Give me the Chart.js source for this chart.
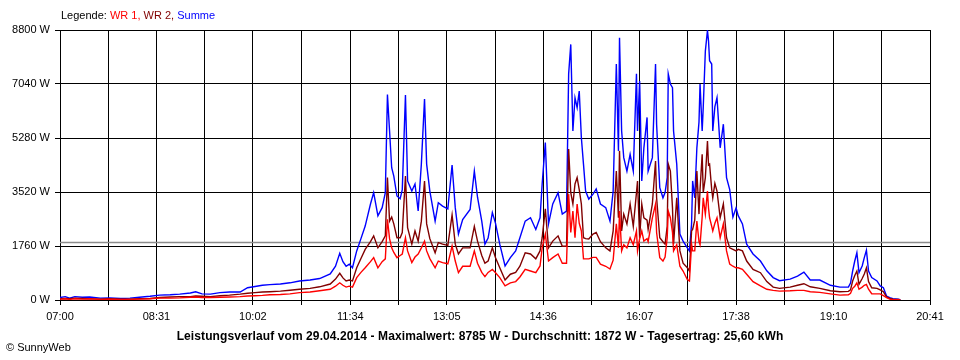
<!DOCTYPE html>
<html>
<head>
<meta charset="utf-8">
<script src="https://cdn.jsdelivr.net/npm/chart.js@4.4.1/dist/chart.umd.min.js"></script>
<style>
  body { margin: 0; background: #fff; }
  #wrap { position: relative; width: 960px; height: 360px; background: #fff; font-family: 'Liberation Sans', Arial, sans-serif; font-size: 11px; }
  #legend { position: absolute; left: 61px; top: 9px; line-height: 13px; color: #000; }
  #title { position: absolute; left: 0; width: 960px; top: 329px; text-align: center; font-weight: bold; font-size: 12px; line-height: 15px; letter-spacing: 0.1px; color: #000; }
  #copy { position: absolute; left: 6px; top: 341px; line-height: 13px; color: #000; }
</style>
</head>
<body>
<div id="wrap">
  <canvas id="chart" width="960" height="360"></canvas>
  <div id="legend">Legende: <span style="color:#ff0000">WR 1,</span> <span style="color:#800000">WR 2,</span> <span style="color:#0000ff">Summe</span></div>
  <div id="title"></div>
  <div id="copy">© SunnyWeb</div>
</div>
<script>
const times = [
  '07:00','07:05','07:09','07:14','07:21','07:28','07:38','07:47','07:57','08:06',
  '08:15','08:25','08:34','08:44','08:53','09:03','09:08','09:14','09:22','09:31',
  '09:40','09:50','09:57','10:04','10:11','10:18','10:28','10:37','10:46','10:56',
  '11:05','11:15','11:20','11:24','11:27','11:30','11:33','11:36','11:40','11:44',
  '11:48','11:53','11:56','12:00','12:04','12:07','12:09','12:11','12:13','12:15',
  '12:18','12:21','12:23','12:26','12:28','12:32','12:35','12:38','12:41','12:44',
  '12:46','12:49','12:54','12:57','13:01','13:06','13:10','13:13','13:16','13:20',
  '13:27','13:31','13:34','13:38','13:41','13:44','13:48','13:51','13:55','14:00',
  '14:05','14:10','14:14','14:19','14:24','14:29','14:33','14:35','14:38','14:41',
  '14:45','14:50','14:54','14:58','15:00','15:02','15:04','15:06','15:08','15:10',
  '15:12','15:14','15:16','15:19','15:23','15:26','15:30','15:35','15:39','15:42',
  '15:45','15:47','15:48','15:50','15:52','15:55','15:58','16:01','16:04','16:05',
  '16:07','16:09','16:11','16:14','16:15','16:19','16:22','16:23','16:26','16:29',
  '16:31','16:33','16:34','16:36','16:38','16:39','16:42','16:45','16:48','16:52',
  '16:54','16:56','16:57','16:59','17:01','17:03','17:04','17:06','17:07','17:09',
  '17:11','17:12','17:13','17:15','17:16','17:18','17:20','17:23','17:26','17:29',
  '17:32','17:35','17:38','17:40','17:44','17:48','17:54','18:01','18:07','18:13',
  '18:19','18:29','18:36','18:42','18:48','18:57','19:07','19:16','19:24','19:26',
  '19:28','19:30','19:32','19:34','19:37','19:39','19:41','19:43','19:46','19:51',
  '19:54','19:57','20:00','20:03','20:06','20:11','20:13'
];

const summe = [
  80,110,60,110,90,100,60,70,50,60,
  90,120,160,170,190,230,270,200,190,240,
  260,260,400,440,480,500,520,560,620,650,
  700,850,1100,1520,1250,1100,1170,1050,1600,2000,
  2410,3130,3500,2740,3010,3500,6700,5510,4310,4040,
  3390,3300,3600,6680,3880,3550,3780,2900,4430,6550,
  4430,3550,2570,3170,3060,2970,4400,3010,2150,2620,
  2950,4200,3350,2570,1820,2020,2850,2500,1820,1110,
  1380,1600,2030,2570,2680,2300,2680,3780,5130,2480,
  3130,3500,2800,2900,7370,8330,5510,6590,6270,6810,
  5290,4430,3550,3290,3450,3620,3130,3010,2570,3550,
  7690,4860,8550,5510,4640,4200,4750,4200,7370,5510,
  7140,3880,4960,5950,4200,4640,7690,5730,3660,3330,
  3500,3990,7370,7040,6920,5510,4430,2150,1920,1700,
  1600,2480,3880,3330,4960,5800,7040,5510,6270,8110,
  8785,8440,7800,7690,5510,6300,6590,4960,5730,3990,
  3600,2700,3000,2750,2480,1820,1500,1270,950,730,
  630,680,780,910,650,650,480,420,420,550,
  945,1270,1540,890,1110,1380,1620,945,730,620,
  460,400,130,75,40,30,10
];

const wr2 = [
  40,50,40,60,50,40,30,40,30,30,
  40,50,80,100,110,110,130,120,110,140,
  160,190,220,240,260,270,290,320,350,380,
  430,520,680,870,720,620,650,620,1050,1350,
  1650,1900,2090,1700,1900,2090,3990,2570,2700,2480,
  2030,2030,2200,4040,2360,1820,2250,1920,2570,3880,
  2480,2000,1540,1870,1820,1780,2770,1820,1500,1700,
  1700,2400,1920,1450,1200,1270,1700,1380,1050,650,
  840,900,1100,1540,1500,1340,1600,2030,2970,1700,
  1920,2090,1750,1750,4920,3500,3130,3780,3990,3600,
  3130,2030,2000,1990,2150,2200,1900,1700,1600,2250,
  4200,2680,4860,2250,2800,2480,3130,2400,3500,3880,
  2030,3130,2680,2600,2300,3130,4530,3330,2030,1900,
  1820,2400,4430,4200,3000,1820,3330,1600,1200,1050,
  945,2250,2300,2600,4200,2800,3600,4750,3500,3990,
  5180,4400,4430,3600,3330,3800,3550,2680,3130,2030,
  1700,1650,1600,1650,1600,1270,1000,890,600,420,
  380,420,480,530,430,380,300,270,280,330,
  620,800,945,510,700,850,1050,600,400,380,
  330,270,100,50,30,20,5
];

const wr1 = [
  30,40,20,40,30,40,20,30,20,20,
  30,40,60,60,70,90,100,80,80,90,
  100,110,130,140,150,170,180,200,240,260,
  300,350,450,560,480,420,450,420,730,900,
  1050,1250,1380,1050,1250,1340,2630,2000,1700,1550,
  1380,1450,1500,2030,1600,1220,1400,1500,1700,1920,
  1600,1350,1050,1270,1220,1180,1760,1270,890,1100,
  1100,1600,1200,900,760,900,1000,890,730,460,
  560,600,750,1000,945,890,1110,1700,2150,1270,
  1380,1500,1200,1200,3450,2200,2900,2030,3130,2500,
  2250,1340,1340,1340,1390,1390,1170,1100,1010,1300,
  2480,1700,2900,1600,1800,1700,2030,1800,2250,1600,
  2000,2250,1920,2000,1900,2680,3130,2200,1380,1270,
  1400,2030,2900,2680,2200,1600,1800,1100,945,670,
  620,1820,1600,1600,2570,1900,1800,2700,3330,2800,
  3550,3000,2680,2400,2250,2500,2680,2030,2480,1600,
  1170,1100,1050,1050,1000,840,600,460,350,315,
  290,300,315,315,270,250,200,160,170,220,
  380,450,560,350,420,480,510,350,205,200,
  200,140,75,30,10,10,0
];

const yTicks = [0, 1760, 3520, 5280, 7040, 8800];
const xTickLabels = ['07:00','08:31','10:02','11:34','13:05','14:36','16:07','17:38','19:10','20:41'];
const avgValue = 1872;
const titleText = 'Leistungsverlauf vom 29.04.2014 - Maximalwert: 8785 W - Durchschnitt: 1872 W - Tagesertrag: 25,60 kWh';

document.getElementById('title').textContent = titleText;

function toMin(s) {
  const p = s.split(':');
  return parseInt(p[0], 10) * 60 + parseInt(p[1], 10);
}

// labelled ticks plus an unlabelled gridline half way between each pair
const labelMins = xTickLabels.map(toMin);
const xTicks = [];
labelMins.forEach((m, i) => {
  xTicks.push({ value: m, label: xTickLabels[i] });
  if (i < labelMins.length - 1) xTicks.push({ value: (m + labelMins[i + 1]) / 2, label: '' });
});

const xMin = labelMins[0];
const xMax = labelMins[labelMins.length - 1];

function series(values) {
  return times.map((t, i) => ({ x: toMin(t), y: values[i] }));
}

Chart.defaults.font.family = "'Liberation Sans', Arial, sans-serif";
Chart.defaults.font.size = 11;
Chart.defaults.color = '#000';

new Chart(document.getElementById('chart'), {
  type: 'line',
  data: {
    datasets: [
      { label: 'WR 1', data: series(wr1), borderColor: '#ff0000' },
      { label: 'WR 2', data: series(wr2), borderColor: '#800000' },
      { label: 'Summe', data: series(summe), borderColor: '#0000ff' },
      { label: 'Durchschnitt', data: [{ x: xMin, y: avgValue }, { x: xMax, y: avgValue }], borderColor: '#8c8c8c', borderWidth: 1.5 }
    ]
  },
  options: {
    responsive: false,
    animation: false,
    devicePixelRatio: 1,
    layout: { padding: { top: 30, right: 30, bottom: 30.4, left: 0 } },
    elements: {
      point: { radius: 0 },
      line: { tension: 0, borderWidth: 1.4, fill: false }
    },
    plugins: {
      legend: { display: false },
      tooltip: { enabled: false }
    },
    scales: {
      x: {
        type: 'linear',
        min: xMin,
        max: xMax,
        afterBuildTicks: (scale) => { scale.ticks = xTicks.map(t => ({ value: t.value })); },
        afterFit: (scale) => { scale.height = 29.6; },
        ticks: {
          autoSkip: false,
          maxRotation: 0,
          padding: 5,
          color: '#000',
          callback: (v) => {
            const t = xTicks.find(k => k.value === v);
            return t ? t.label : '';
          }
        },
        grid: { color: '#000', lineWidth: 1, tickLength: 5 },
        border: { color: '#000' }
      },
      y: {
        min: 0,
        max: 8800,
        afterBuildTicks: (scale) => { scale.ticks = yTicks.map(v => ({ value: v })); },
        afterFit: (scale) => { scale.width = 60; },
        ticks: {
          padding: 5,
          color: '#000',
          callback: (v) => v + ' W'
        },
        grid: { color: '#000', lineWidth: 1, tickLength: 5 },
        border: { color: '#000' }
      }
    }
  }
});
</script>
</body>
</html>
